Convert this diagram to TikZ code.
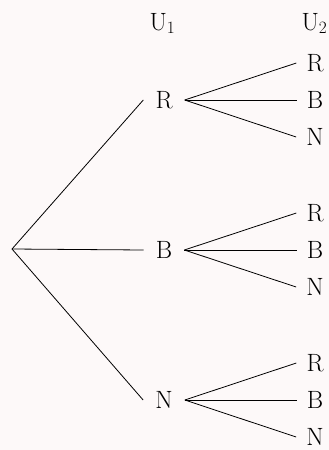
\documentclass[tikz,border=0pt]{standalone}
\definecolor{bgpaper}{RGB}{253,249,249}
\begin{document}
\begin{tikzpicture}[x=1pt,y=-1pt,
  lab/.style={inner xsep=12pt,inner ysep=3pt,font=\fontsize{25}{30}\selectfont},
  lab2/.style={lab,inner xsep=10pt},
  edge/.style={draw=black,line width=0.8pt}]
\fill[bgpaper] (0,0) rectangle (329,450);
\useasboundingbox (0,0) rectangle (329,450);
\node[lab,anchor=base] (u1) at (162.5,30) {U$_1$};
\node[lab,anchor=base] (u2) at (314.5,30) {U$_2$};
\coordinate (root) at (12,249);
\node[lab] (r) at (164,100) {R};
\node[lab] (b) at (164,250) {B};
\node[lab] (n) at (164,400) {N};
\foreach \p/\y in {r/100,b/250,n/400}{
  \node[lab2] (\p R) at (315,\y-37) {R};
  \node[lab2] (\p B) at (315,\y) {B};
  \node[lab2] (\p N) at (315,\y+37) {N};
}
\foreach \p in {r,b,n}{
  \draw[edge] (root) -- (\p.west);
  \foreach \q in {R,B,N}{
    \draw[edge] (\p.east) -- (\p\q.west);
  }
}
\end{tikzpicture}
\end{document}
